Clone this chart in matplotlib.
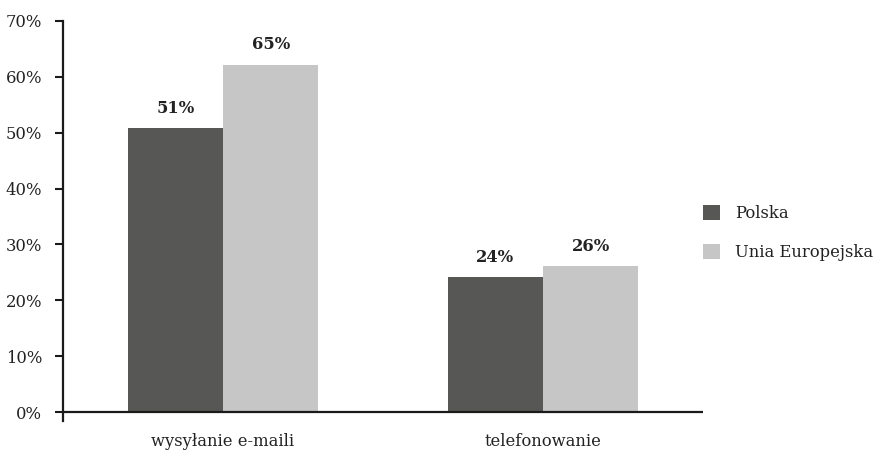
import matplotlib
matplotlib.use("Agg")
import matplotlib.pyplot as plt
import numpy as np

categories = ["wysyłanie e-maili", "telefonowanie"]
series_names = ["Polska", "Unia Europejska"]
polska = [50.8, 24.1]
unia = [62.2, 26.2]
polska_labels = ["51%", "24%"]
unia_labels = ["65%", "26%"]
yticks = [0, 10, 20, 30, 40, 50, 60, 70]

dark = "#575756"
light = "#c6c6c6"
fs = 11.8

plt.rcParams['font.family'] = ['DejaVu Serif']

fig = plt.figure(figsize=(8.84, 4.57), dpi=100)
ax = fig.add_axes([63 / 884, (457 - 421) / 457, 640 / 884, 400 / 457])

x = np.arange(len(categories))
w = 0.298
b1 = ax.bar(x - w / 2, polska, w, color=dark, label=series_names[0])
b2 = ax.bar(x + w / 2, unia, w, color=light, label=series_names[1])

for bars, labels in [(b1, polska_labels), (b2, unia_labels)]:
    for r, lab in zip(bars, labels):
        ax.annotate(lab, (r.get_x() + r.get_width() / 2, r.get_height()),
                    xytext=(0, 8), textcoords="offset points",
                    ha="center", va="bottom", fontsize=fs,
                    fontweight="bold", color="#222222")

ax.set_xlim(-0.5, 1.5)
ax.set_ylim(-1.6, 70)
ax.axhline(0, color="#1a1a1a", lw=1.6, zorder=3)

ax.set_yticks(yticks)
ax.set_yticklabels([f"{v}%" for v in yticks])
ax.set_xticks(x)
ax.set_xticklabels(categories)
ax.tick_params(axis="y", length=6, width=1.5, color="#1a1a1a", pad=9,
               labelsize=fs, labelcolor="#222222")
ax.tick_params(axis="x", length=0, pad=9, labelsize=fs, labelcolor="#222222")

for s in ["top", "right", "bottom"]:
    ax.spines[s].set_visible(False)
ax.spines["left"].set_linewidth(1.6)
ax.spines["left"].set_color("#1a1a1a")

leg = fig.legend(handles=[b1, b2], loc="center left",
                 bbox_to_anchor=(688 / 884, 1 - 233 / 457),
                 frameon=False, fontsize=fs, handlelength=1.05,
                 handleheight=1.05, handletextpad=0.9, labelspacing=1.3)
for t in leg.get_texts():
    t.set_color("#222222")

fig.savefig("out.png", dpi=100)
